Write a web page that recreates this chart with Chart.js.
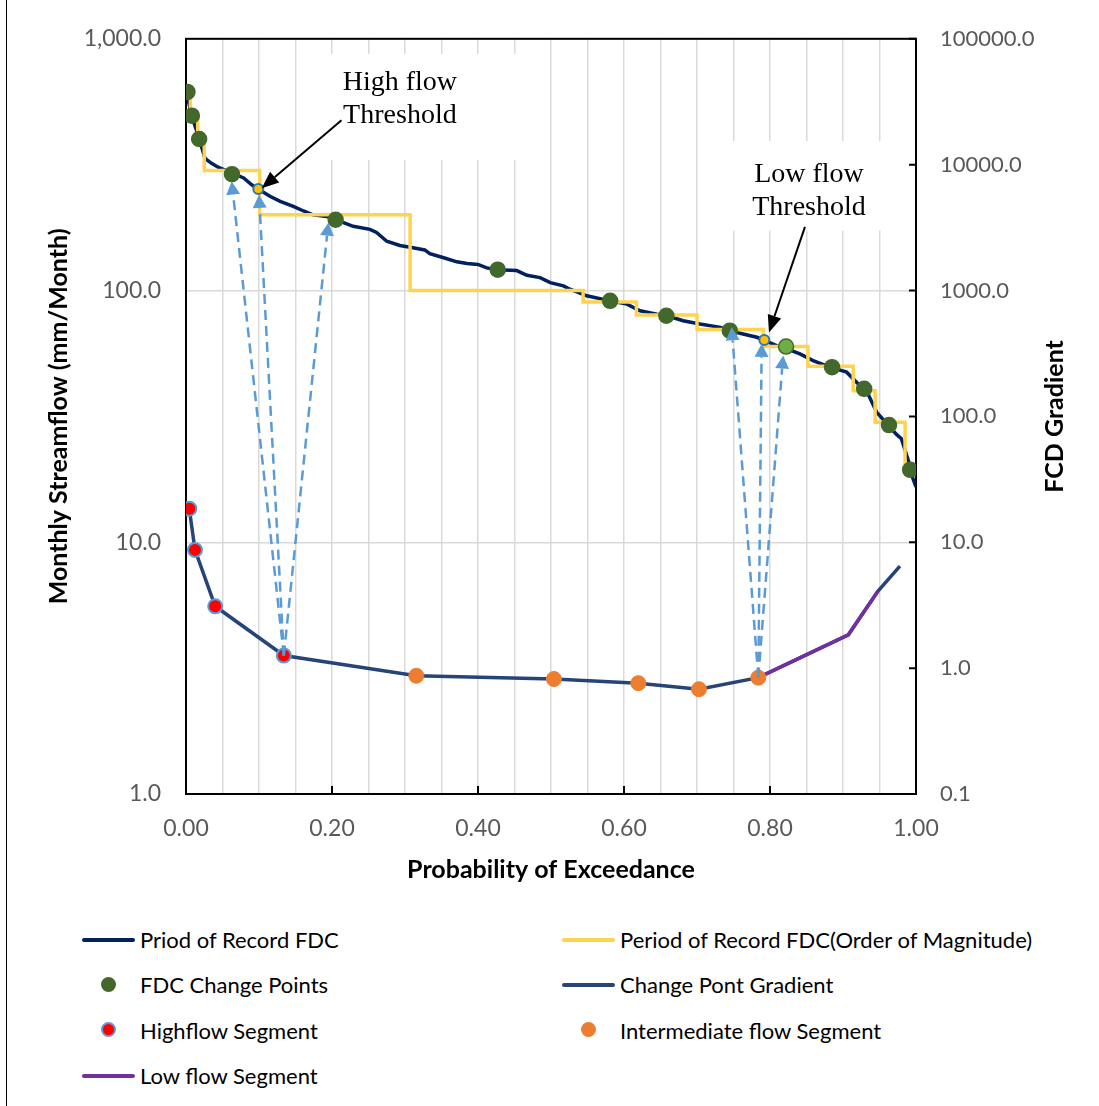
<!DOCTYPE html>
<html>
<head>
<meta charset="utf-8">
<title>Flow duration curve change points</title>
<script src="https://cdn.jsdelivr.net/npm/chart.js@4.4.1/dist/chart.umd.min.js"></script>
<style>
  html, body { margin: 0; padding: 0; background: #fff; }
  #page   { position: relative; width: 1099px; height: 1106px; overflow: hidden; }
  #edge   { position: absolute; left: 6px; top: 0; bottom: 0; border-left: 1.5px solid #000; }
  #plot   { position: absolute; left: 0; top: 0; width: 1099px; height: 885px; }
  #legend { position: absolute; left: 82px; top: 917px; display: grid;
            grid-template-columns: 480px 480px; grid-auto-rows: 45.3px;
            font: 22px Lato, "Open Sans", sans-serif; color: #000; }
  .item   { display: flex; align-items: center; white-space: nowrap; }
  .sw     { position: relative; width: 53px; height: 16px; margin-right: 5px; flex: none; }
</style>
</head>
<body>
<div id="page">
  <div id="edge"></div>
  <div id="plot"><canvas id="chart" width="1099" height="885"></canvas></div>
  <div id="legend"></div>
</div>
<script>
// ─── DATA ──────────────────────────────────────────────────────────────────────

// period of record flow duration curve (probability of exceedance, mm/month)
const fdcProb = [0, 0.008, 0.018, 0.026, 0.035, 0.044, 0.063, 0.079, 0.090, 0.101,
                 0.115, 0.129, 0.147, 0.161, 0.174, 0.193, 0.206, 0.229, 0.252, 0.261,
                 0.275, 0.293, 0.311, 0.327, 0.334, 0.353, 0.371, 0.385, 0.400, 0.412,
                 0.426, 0.453, 0.467, 0.485, 0.499, 0.517, 0.526, 0.549, 0.581, 0.604,
                 0.622, 0.645, 0.659, 0.681, 0.704, 0.732, 0.745, 0.763, 0.782, 0.793,
                 0.809, 0.823, 0.841, 0.859, 0.882, 0.905, 0.923, 0.933, 0.946, 0.964,
                 0.974, 0.980, 0.990, 0.994, 1.0]
const fdcFlow = [625, 492, 402, 335, 320, 309, 293, 280, 263, 251,
                 237, 226, 216, 207, 200, 197, 191, 180, 175, 170,
                 157, 151, 148, 145, 140, 135, 130, 128, 127, 123,
                 121, 120, 115, 112.6, 107.5, 104.4, 101.2, 95.3, 91, 88.3,
                 83.1, 80.6, 79.4, 75.9, 73.6, 71.4, 69.3, 67.2, 65.2, 63.3,
                 60.4, 58.6, 56.0, 52.7, 49.6, 47.4, 42.0, 39.5, 32.9, 28.7,
                 26.7, 25.8, 20.9, 18.5, 16.6]

// order of magnitude FDC (value holds until the next probability)
const oomProb = [0, 0.006, 0.016, 0.025, 0.101, 0.307, 0.544, 0.617, 0.700, 0.791, 0.852, 0.914, 0.944, 0.985, 1.0]
const oomFlow = [600, 500, 400, 300, 200, 100, 90, 80, 70, 60, 50, 40, 30, 20, 20]

// change points picked on the FDC
const cpProb = [0.002, 0.008, 0.018, 0.063, 0.205, 0.427, 0.581, 0.658, 0.745, 0.822, 0.885, 0.929, 0.963, 0.992]
const cpFlow = [615, 495, 400, 290, 191, 121, 91, 79.4, 69.3, 59.9, 49.6, 40.7, 29.2, 19.4]
const cpLight = 9   // the one drawn in the lighter green

// gradient between change points (right axis)
const gradProb  = [0.0045, 0.0123, 0.040, 0.134, 0.3155, 0.504, 0.6196, 0.7027, 0.784, 0.9073, 0.948, 0.978]
const gradValue = [18.5, 8.7, 3.1, 1.26, 0.87, 0.82, 0.76, 0.68, 0.84, 1.84, 4.1, 6.46]

// slices of the gradient points per segment [start, end)
const highSeg = [0, 4]
const midSeg  = [4, 9]
const lowSeg  = [8, 11]

// thresholds marked on the FDC
const thrProb = [0.099, 0.7922]
const thrFlow = [253, 63.6]

// dashed links: gradient point index -> position on the FDC
const linkFrom     = [3, 3, 3, 8, 8, 8]
const linkToProb   = [0.0626, 0.100, 0.195, 0.7475, 0.7886, 0.818]
const linkToFlow   = [271, 240, 186, 71.4, 61.4, 55.2]

// axis ticks
const probLabelStep = 0.2
const flowTicks = [1, 10, 100, 1000]
const gradTicks = [0.1, 1, 10, 100, 1000, 10000, 100000]

// call-outs (text centre / first baseline, box, arrow) in data units
const notes = [
  { lines: ["High flow", "Threshold"], prob: 0.293, flow: 625,
    box: [0.17, 0.485, 872, 330], arrow: [0.213, 475, 0.1037, 255] },
  { lines: ["Low flow", "Threshold"], prob: 0.8534, flow: 271,
    box: [0.711, 0.985, 392, 173], arrow: [0.8479, 179, 0.7986, 68.2] },
]

// ─── HELPERS ───────────────────────────────────────────────────────────────────
const FONT  = 'Lato, "Open Sans", sans-serif'
const SERIF = '"Liberation Serif", "Times New Roman", serif'
const pts   = (xs, ys) => xs.map((x, i) => ({ x, y: ys[i] }))
const gradPts = seg => pts(gradProb.slice(seg[0], seg[1]), gradValue.slice(seg[0], seg[1]))

function drawArrow(ctx, x0, y0, x1, y1, head, half) {
  const a  = Math.atan2(y1 - y0, x1 - x0)
  const bx = x1 - head * Math.cos(a)
  const by = y1 - head * Math.sin(a)
  ctx.beginPath(); ctx.moveTo(x0, y0); ctx.lineTo(bx, by); ctx.stroke()
  ctx.setLineDash([])
  ctx.beginPath()
  ctx.moveTo(x1, y1)
  ctx.lineTo(bx + half * Math.sin(a), by - half * Math.cos(a))
  ctx.lineTo(bx - half * Math.sin(a), by + half * Math.cos(a))
  ctx.closePath(); ctx.fill()
}

// ─── PLUGINS ───────────────────────────────────────────────────────────────────

// plot frame, inner tick marks and the white call-out boxes (under the data)
const framePlugin = {
  id: "frame",
  beforeDatasetsDraw(chart) {
    const { ctx, chartArea: a, scales: { x, y, y1 } } = chart
    ctx.save()
    ctx.fillStyle = "#fff"
    notes.forEach(n => {
      const l = x.getPixelForValue(n.box[0]), r = x.getPixelForValue(n.box[1])
      const t = y.getPixelForValue(n.box[2]), b = y.getPixelForValue(n.box[3])
      ctx.fillRect(l, t, r - l, b - t)
    })
    ctx.strokeStyle = "#000"
    ctx.lineWidth = 2
    ctx.strokeRect(a.left, a.top, a.right - a.left, a.bottom - a.top)
    ctx.beginPath()
    for (let v = probLabelStep; v < 1; v += probLabelStep) {
      const px = x.getPixelForValue(v)
      ctx.moveTo(px, a.bottom); ctx.lineTo(px, a.bottom - 8)
    }
    gradTicks.forEach(v => {
      const py = y1.getPixelForValue(v)
      ctx.moveTo(a.right, py); ctx.lineTo(a.right - 7, py)
    })
    ctx.stroke()

    // right axis title reads bottom-to-top like the left one
    ctx.translate(y1.right - 15, (a.top + a.bottom) / 2)
    ctx.rotate(-Math.PI / 2)
    ctx.fillStyle = "#000"
    ctx.font = `bold 25px ${FONT}`
    ctx.textAlign = "center"
    ctx.textBaseline = "middle"
    ctx.fillText(y1.options.titleText, 0, 0)
    ctx.restore()
  },
  afterDatasetsDraw(chart) {
    const { ctx, scales: { x, y, y1 } } = chart
    ctx.save()
    // dashed links from gradient to FDC
    ctx.strokeStyle = "#5B9BD5"
    ctx.fillStyle = "#5B9BD5"
    ctx.lineWidth = 2.5
    linkFrom.forEach((g, i) => {
      ctx.setLineDash([10, 6])
      drawArrow(ctx,
        x.getPixelForValue(gradProb[g]), y1.getPixelForValue(gradValue[g]),
        x.getPixelForValue(linkToProb[i]), y.getPixelForValue(linkToFlow[i]), 13, 7)
    })
    // call-out text and arrows
    ctx.fillStyle = "#000"
    ctx.strokeStyle = "#000"
    ctx.lineWidth = 2
    ctx.font = `28px ${SERIF}`
    ctx.textAlign = "center"
    ctx.textBaseline = "alphabetic"
    notes.forEach(n => {
      const cx = x.getPixelForValue(n.prob), by = y.getPixelForValue(n.flow)
      n.lines.forEach((t, k) => ctx.fillText(t, cx, by + k * 33))
      const [p0, f0, p1, f1] = n.arrow
      drawArrow(ctx, x.getPixelForValue(p0), y.getPixelForValue(f0),
                x.getPixelForValue(p1), y.getPixelForValue(f1), 17, 7)
    })
    ctx.restore()
  },
}

// legend in two columns under the chart
const htmlLegend = {
  id: "htmlLegend",
  afterUpdate(chart) {
    const box = document.getElementById("legend")
    box.innerHTML = ""
    chart.data.datasets.forEach(ds => {
      if (ds.inLegend === false) return
      const item = document.createElement("div")
      item.className = "item"
      const sw = document.createElement("span")
      sw.className = "sw"
      const mark = document.createElement("span")
      mark.style.position = "absolute"
      if (ds.showLine) {
        Object.assign(mark.style, { left: "0", right: "0", top: "6px", height: "4px",
          borderRadius: "2px", background: ds.borderColor })
      } else {
        Object.assign(mark.style, { left: "19px", top: "0", width: "15px", height: "15px",
          borderRadius: "50%", boxSizing: "border-box", background: ds.backgroundColor,
          border: `2px solid ${ds.borderColor}` })
      }
      sw.appendChild(mark)
      const label = document.createElement("span")
      label.textContent = ds.label
      item.append(sw, label)
      box.appendChild(item)
    })
  },
}

// ─── CHART ─────────────────────────────────────────────────────────────────────
const tickFont  = { family: FONT, size: 23 }
const titleFont = { family: FONT, size: 25, weight: "bold" }

new Chart(document.getElementById("chart"), {
  type: "scatter",
  data: {
    datasets: [
      { label: "Priod of Record FDC", data: pts(fdcProb, fdcFlow), yAxisID: "y",
        showLine: true, borderColor: "#002060", borderWidth: 3.5, pointRadius: 0, order: 7 },
      { label: "Period of Record FDC(Order of Magnitude)", data: pts(oomProb, oomFlow), yAxisID: "y",
        showLine: true, stepped: "before", borderColor: "#FFD34E", borderWidth: 3.5, pointRadius: 0, order: 6 },
      { label: "FDC Change Points", data: pts(cpProb, cpFlow), yAxisID: "y",
        backgroundColor: "#43682B", borderColor: "#43682B",
        pointBackgroundColor: c => c.dataIndex === cpLight ? "#70AD47" : "#43682B",
        pointBorderColor: "#43682B", pointBorderWidth: 1.5, pointRadius: 7.5, order: 3 },
      { label: "Change Pont Gradient", data: pts(gradProb, gradValue), yAxisID: "y1",
        showLine: true, borderColor: "#264478", borderWidth: 3.5, pointRadius: 0, order: 5 },
      { label: "Highflow Segment", data: gradPts(highSeg), yAxisID: "y1",
        backgroundColor: "#FF0000", borderColor: "#5B9BD5", pointBorderWidth: 2, pointRadius: 7, order: 2 },
      { label: "Intermediate flow Segment", data: gradPts(midSeg), yAxisID: "y1",
        backgroundColor: "#ED7D31", borderColor: "#ED7D31", pointBorderWidth: 1, pointRadius: 7.5, order: 2 },
      { label: "Low flow Segment", data: gradPts(lowSeg), yAxisID: "y1",
        showLine: true, borderColor: "#7030A0", borderWidth: 3.5, pointRadius: 0, order: 4 },
      { label: "Thresholds", data: pts(thrProb, thrFlow), yAxisID: "y", inLegend: false,
        backgroundColor: "#FFC000", borderColor: "#2E75B6", pointBorderWidth: 2, pointRadius: 5, order: 1 },
    ],
  },
  options: {
    animation: false,
    responsive: false,
    events: [],
    layout: { padding: { left: 44, right: 29, top: 35, bottom: 0 } },
    plugins: { legend: { display: false }, tooltip: { enabled: false } },
    scales: {
      x: {
        type: "linear", position: "bottom", min: 0, max: 1,
        ticks: {
          stepSize: 0.05, autoSkip: false, maxRotation: 0, padding: 21, color: "#595959", font: tickFont,
          callback: v => {
            const k = Math.round(v / 0.05)
            return k % Math.round(probLabelStep / 0.05) === 0 ? (k * 0.05).toFixed(2) : ""
          },
        },
        grid: { color: "#D9D9D9", lineWidth: 1.5, drawTicks: false },
        border: { display: false },
        title: { display: true, text: "Probability of Exceedance", color: "#000", font: titleFont, padding: 0 },
        afterFit: s => { s.height = 91 },
      },
      y: {
        type: "logarithmic", position: "left", min: 1, max: 1000,
        afterBuildTicks: s => { s.ticks = flowTicks.map(v => ({ value: v })) },
        ticks: {
          padding: 25, color: "#595959", font: tickFont,
          callback: v => Number(v).toLocaleString("en-US", { minimumFractionDigits: 1, maximumFractionDigits: 1 }),
        },
        grid: { color: "#D9D9D9", lineWidth: 1.5, drawTicks: false },
        border: { display: false },
        title: { display: true, text: "Monthly Streamflow (mm/Month)", color: "#000", font: titleFont, padding: 0 },
        afterFit: s => { s.width = 142 },
      },
      y1: {
        type: "logarithmic", position: "right", min: 0.1, max: 100000,
        titleText: "FCD Gradient",
        afterBuildTicks: s => { s.ticks = gradTicks.map(v => ({ value: v })) },
        ticks: { padding: 24, color: "#595959", font: { family: FONT, size: 22 }, callback: v => Number(v).toFixed(1) },
        grid: { drawOnChartArea: false, drawTicks: false },
        border: { display: false },
        afterFit: s => { s.width = 154 },
      },
    },
  },
  plugins: [framePlugin, htmlLegend],
})
</script>
</body>
</html>
